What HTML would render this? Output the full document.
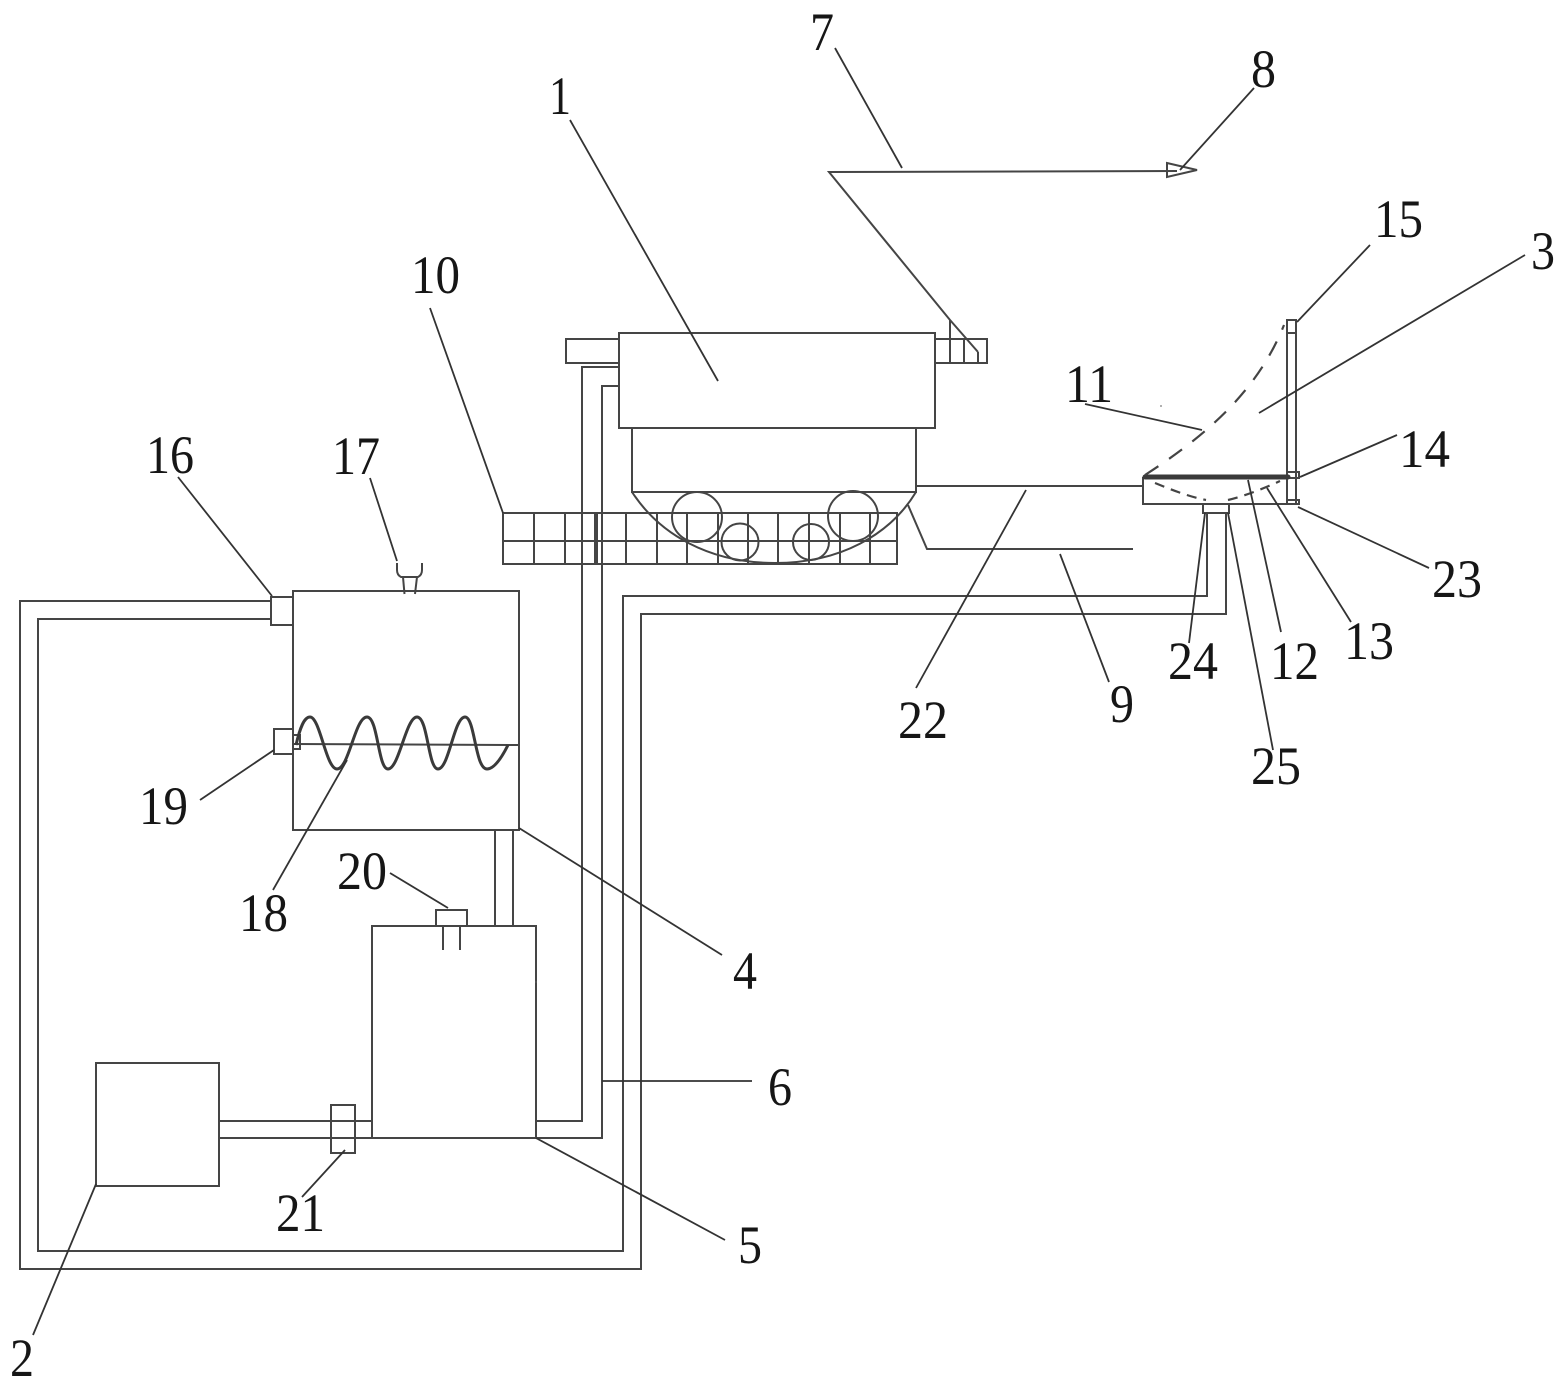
<!DOCTYPE html>
<html>
<head>
<meta charset="utf-8">
<style>
html,body{margin:0;padding:0;background:#fff;width:1566px;height:1388px;overflow:hidden}
svg{display:block}
.s{fill:none;stroke:#454545;stroke-width:2}
.l{fill:none;stroke:#333;stroke-width:1.8}
.d{fill:none;stroke:#444;stroke-width:2.2;stroke-dasharray:16 13}
text{font-family:"Liberation Serif",serif;font-size:54px;fill:#161616}
</style>
</head>
<body>
<svg width="1566" height="1388" viewBox="0 0 1566 1388" xmlns="http://www.w3.org/2000/svg">
<!-- central machine -->
<g class="s">
<rect x="566" y="339" width="53" height="24"/>
<rect x="935" y="339" width="52" height="24"/>
<path d="M950 320V363M964 339V363M978 352V363"/>
<rect x="619" y="333" width="316" height="95"/>
<path d="M632 428V492H916V428"/>
<path d="M632 492C660 535 710 563 775 563C840 563 890 535 916 492"/>
<circle cx="697" cy="517" r="25"/>
<circle cx="853" cy="516" r="25"/>
<circle cx="740" cy="542" r="18.5"/>
<circle cx="811" cy="542" r="18"/>
<rect x="503" y="513" width="394" height="51"/>
<path d="M503 541H897M534 513V564M565 513V564M595 513V564M597 513V564M626 513V564M657 513V564M687 513V564M718 513V564M748 513V564M778 513V564M809 513V564M840 513V564M870 513V564"/>
<path d="M916 486H1143M908 505L927 549H1133"/>
<!-- pipes -->
<path d="M619 367H582V1121H536M619 386H602V1138H536"/>
<path d="M1207 513V596H623V1251H38V619H272M1226 513V614H641V1269H20V601H272"/>
<!-- tank 4 -->
<rect x="293" y="591" width="226" height="239"/>
<rect x="271" y="597" width="22" height="28"/>
<path d="M397 563V570Q397 575 401 577H418Q422 575 422 570V563M403 577L404.5 594M417 577L415 594"/>
<rect x="274" y="729" width="19" height="25"/>
<rect x="293" y="735" width="7" height="14"/>
<path d="M293 744L519 745"/>
<path d="M495 830V926M513 830V926"/>
<!-- tank 5 -->
<rect x="372" y="926" width="164" height="212"/>
<rect x="436" y="910" width="31" height="16"/>
<path d="M443 926V950M460 926V950"/>
<rect x="96" y="1063" width="123" height="123"/>
<path d="M219 1121H372M219 1138H372"/>
<rect x="331" y="1105" width="24" height="48"/>
<!-- right assembly -->
<path d="M1143 477V504H1297"/>
<rect x="1287" y="320" width="9" height="184"/>
<path d="M1287 333H1296"/>
<rect x="1287" y="472" width="12" height="6"/>
<rect x="1287" y="500" width="12" height="4"/>
<rect x="1203" y="504" width="26" height="9"/>
<!-- arrow line -->
<path d="M1177 171L829 172L950 320L978 352"/>
<path d="M1167 163L1197 170L1167 177Z"/>
</g>
<path d="M296 745C300 728 304 717 310 717C320 717 326 769 337 769C349 769 355 717 367 717C378 717 378 769 388 769C399 769 406 717 417 717C428 717 428 769 438 769C449 769 454 717 465 717C475 717 475 769 487 769C495 769 503 755 508 745" fill="none" stroke="#3a3a3a" stroke-width="3"/>
<path d="M1145 477H1288" stroke="#3a3a3a" stroke-width="5" fill="none" stroke-linecap="round"/>
<path class="d" d="M1145 475C1215 430 1260 385 1284 325"/>
<path class="d" d="M1155 483C1172 490 1190 497 1206 500M1228 500C1245 496 1265 488 1280 481" style="stroke-dasharray:10 7"/>
<circle cx="1161" cy="406" r="1" fill="#999"/>
<path d="M535 982h2" stroke="#555" stroke-width="1.5"/>
<!-- leaders -->
<g class="l">
<path d="M570 120L718 381"/>
<path d="M835 48L902 168"/>
<path d="M1254 88L1180 170"/>
<path d="M430 308L503 513"/>
<path d="M1085 404L1202 430"/>
<path d="M1370 245L1297 322"/>
<path d="M1525 255L1259 413"/>
<path d="M1397 435L1300 477"/>
<path d="M1429 568L1298 507"/>
<path d="M1351 622L1267 488"/>
<path d="M1281 632L1248 480"/>
<path d="M1273 750L1228 513"/>
<path d="M1189 643L1205 513"/>
<path d="M1109 682L1060 554"/>
<path d="M1026 490L916 688"/>
<path d="M370 478L397 561"/>
<path d="M178 477L272 596"/>
<path d="M200 800L274 750"/>
<path d="M273 890L347 760"/>
<path d="M390 873L448 908"/>
<path d="M519 828L722 955"/>
<path d="M536 1138L725 1240"/>
<path d="M602 1081H752"/>
<path d="M302 1197L345 1150"/>
<path d="M96 1184L33 1335"/>
</g>
<!-- labels -->
<g>
<text x="549" y="114" textLength="22" lengthAdjust="spacingAndGlyphs">1</text>
<text x="10" y="1376" textLength="24" lengthAdjust="spacingAndGlyphs">2</text>
<text x="1531" y="269" textLength="24" lengthAdjust="spacingAndGlyphs">3</text>
<text x="733" y="989" textLength="24" lengthAdjust="spacingAndGlyphs">4</text>
<text x="738" y="1263" textLength="24" lengthAdjust="spacingAndGlyphs">5</text>
<text x="768" y="1105" textLength="24" lengthAdjust="spacingAndGlyphs">6</text>
<text x="810" y="50" textLength="24" lengthAdjust="spacingAndGlyphs">7</text>
<text x="1251" y="87" textLength="25" lengthAdjust="spacingAndGlyphs">8</text>
<text x="1110" y="722" textLength="24" lengthAdjust="spacingAndGlyphs">9</text>
<text x="411" y="293" textLength="49" lengthAdjust="spacingAndGlyphs">10</text>
<text x="1065" y="402" textLength="48" lengthAdjust="spacingAndGlyphs">11</text>
<text x="1270" y="679" textLength="49" lengthAdjust="spacingAndGlyphs">12</text>
<text x="1344" y="659" textLength="50" lengthAdjust="spacingAndGlyphs">13</text>
<text x="1399" y="467" textLength="51" lengthAdjust="spacingAndGlyphs">14</text>
<text x="1374" y="237" textLength="49" lengthAdjust="spacingAndGlyphs">15</text>
<text x="146" y="473" textLength="48" lengthAdjust="spacingAndGlyphs">16</text>
<text x="332" y="474" textLength="48" lengthAdjust="spacingAndGlyphs">17</text>
<text x="239" y="931" textLength="49" lengthAdjust="spacingAndGlyphs">18</text>
<text x="139" y="824" textLength="49" lengthAdjust="spacingAndGlyphs">19</text>
<text x="337" y="889" textLength="50" lengthAdjust="spacingAndGlyphs">20</text>
<text x="276" y="1231" textLength="49" lengthAdjust="spacingAndGlyphs">21</text>
<text x="898" y="738" textLength="50" lengthAdjust="spacingAndGlyphs">22</text>
<text x="1432" y="597" textLength="50" lengthAdjust="spacingAndGlyphs">23</text>
<text x="1168" y="679" textLength="50" lengthAdjust="spacingAndGlyphs">24</text>
<text x="1251" y="784" textLength="50" lengthAdjust="spacingAndGlyphs">25</text>
</g>
</svg>
</body>
</html>
